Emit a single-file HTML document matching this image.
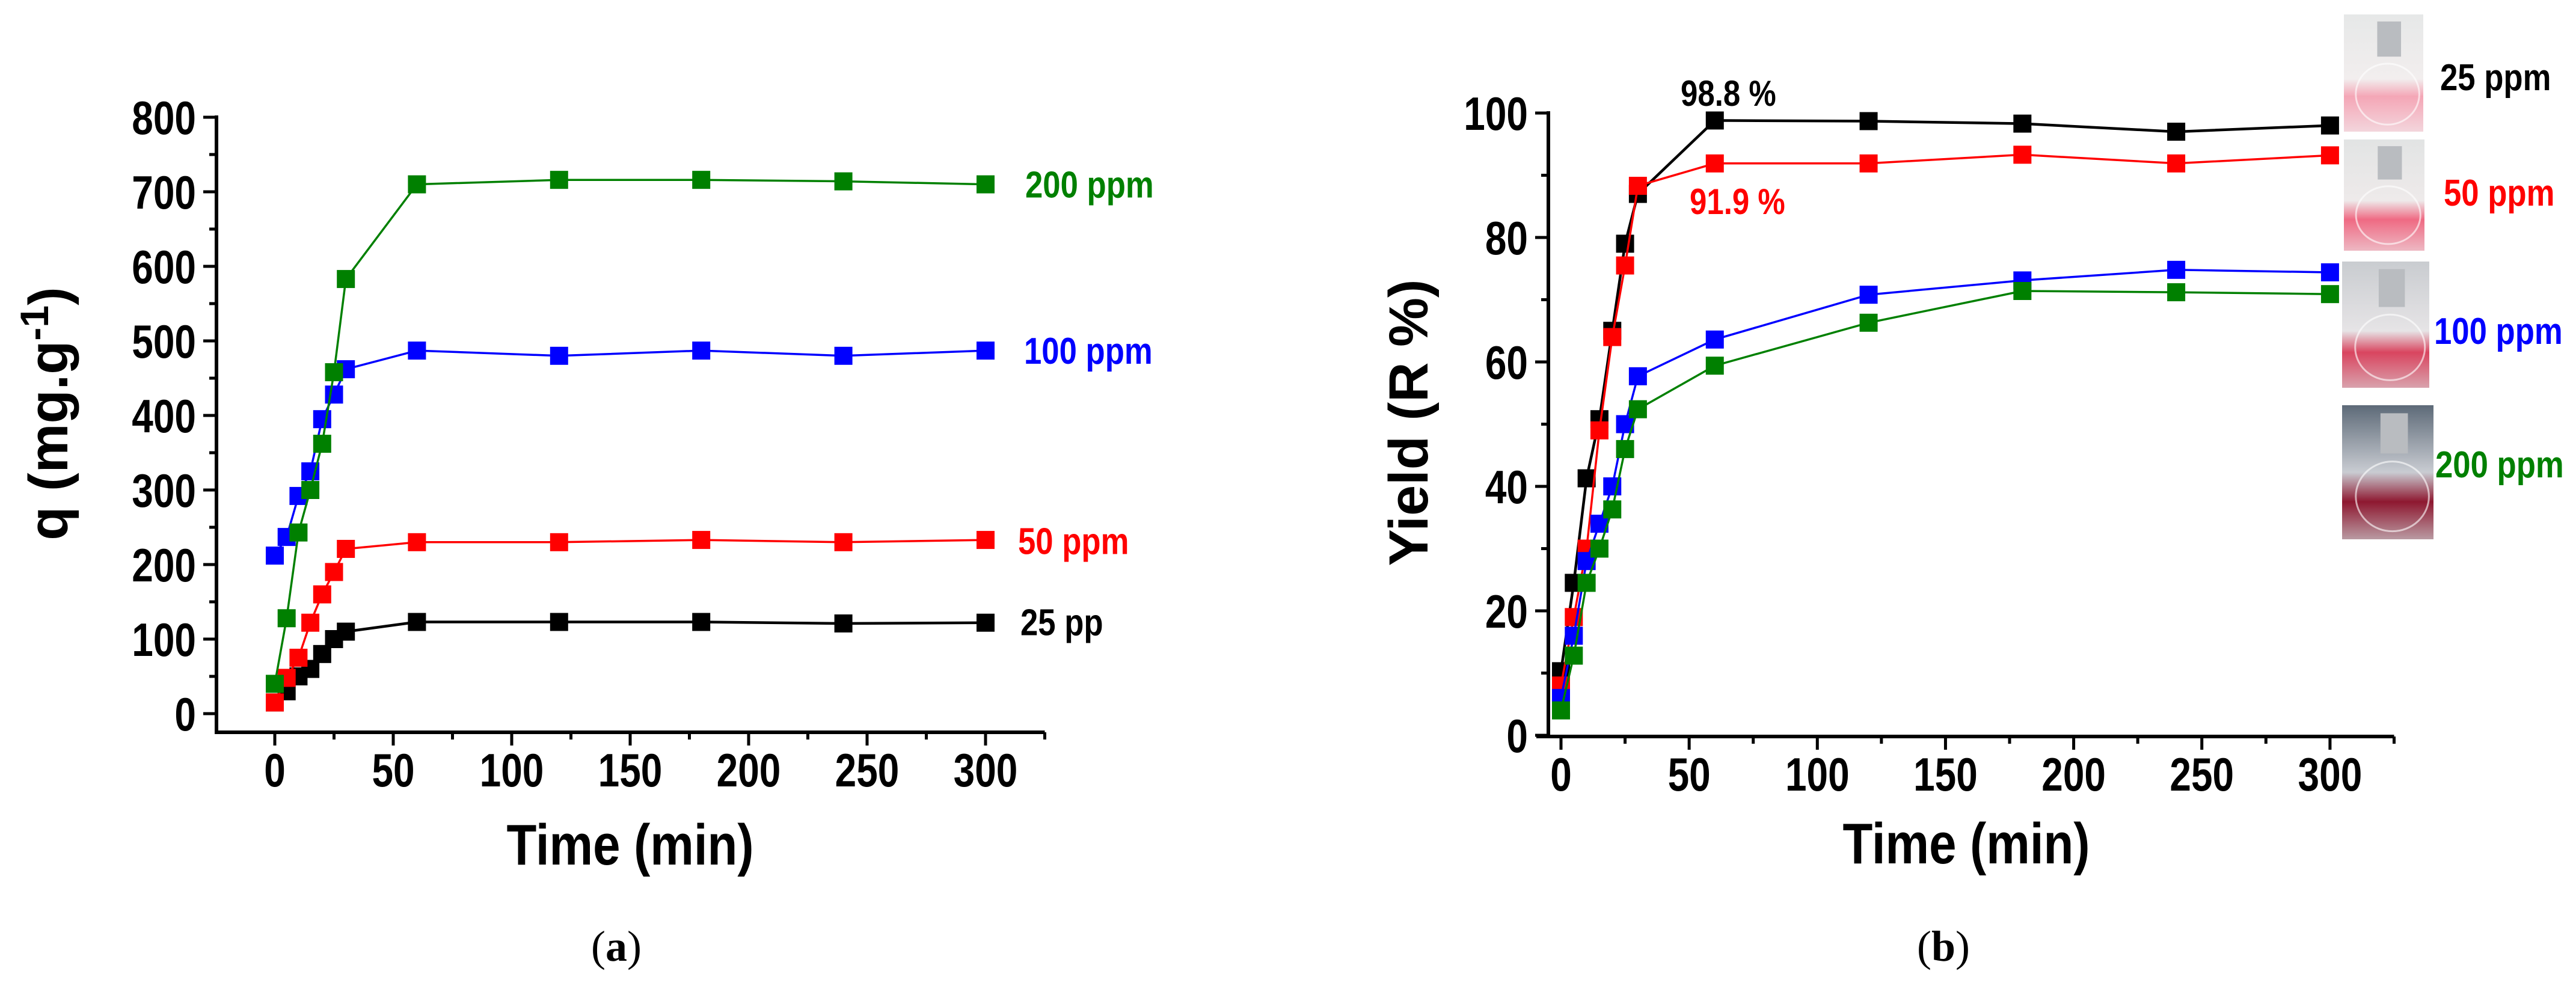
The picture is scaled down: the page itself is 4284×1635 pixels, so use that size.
<!DOCTYPE html>
<html><head><meta charset="utf-8"><style>
html,body{margin:0;padding:0;background:#fff;}
svg{display:block;}
text{font-family:"Liberation Sans",Arial,sans-serif;font-weight:bold;}
</style></head><body>
<svg id="fig" width="4284" height="1635" viewBox="0 0 4284 1635" xmlns="http://www.w3.org/2000/svg">
<defs>
<linearGradient id="flaskA" x1="0" y1="0" x2="0" y2="1"><stop offset="0" stop-color="#e6e8e8"/><stop offset="0.55" stop-color="#f2eeee"/><stop offset="0.7" stop-color="#f4a6b6"/><stop offset="1" stop-color="#f3d5dc"/></linearGradient>
<linearGradient id="flaskB" x1="0" y1="0" x2="0" y2="1"><stop offset="0" stop-color="#e2e4e4"/><stop offset="0.55" stop-color="#eeeaea"/><stop offset="0.72" stop-color="#ef6a83"/><stop offset="1" stop-color="#eeb8c3"/></linearGradient>
<linearGradient id="flaskC" x1="0" y1="0" x2="0" y2="1"><stop offset="0" stop-color="#c9ccd0"/><stop offset="0.55" stop-color="#e6e4e6"/><stop offset="0.72" stop-color="#d9455f"/><stop offset="1" stop-color="#d9a2ad"/></linearGradient>
<linearGradient id="flaskD" x1="0" y1="0" x2="0" y2="1"><stop offset="0" stop-color="#5d6a78"/><stop offset="0.5" stop-color="#c9ccd2"/><stop offset="0.72" stop-color="#8e1830"/><stop offset="1" stop-color="#b99aa2"/></linearGradient>
</defs>
<g id="root"></g>
</svg>
<script>
// ---- shared data ----
const times = [0,5,10,15,20,25,30,60,120,180,240,300];
// panel a: q (mg/g)
const qA25  = [15,30,50,60,80,100,110,123,123,123,121,122];
const qA50  = [15,48,75,122,160,190,221,230,230,233,230,233];
const qA100 = [212,237,292,325,395,428,462,487,480,487,480,487];
const qA200 = [40,128,243,300,362,458,583,710,716,716,714,710];
// panel b: yield (%)
const yB25  = [10.3,24.5,41.3,50.8,65,79,87,98.8,98.7,98.3,97,98];
const yB50  = [8,19,30,49,64,75.5,88.3,91.9,91.9,93.3,91.9,93.2];
const yB100 = [6,16,28,34,40,50,57.7,63.6,70.8,73.1,74.8,74.4];
const yB200 = [4,12.8,24.5,30,36.3,46,52.4,59.4,66.3,71.4,71.2,70.9];
const xTicks = [0,50,100,150,200,250,300];
const yTicksA = [0,100,200,300,400,500,600,700,800];
const yTicksB = [0,20,40,60,80,100];

const NS = "http://www.w3.org/2000/svg";
const root = document.getElementById('root');
function mk(tag, attrs, parent){
  const e = document.createElementNS(NS, tag);
  for (const k in attrs) e.setAttribute(k, attrs[k]);
  (parent||root).appendChild(e);
  return e;
}
function txt(str, x, y, size, anchor, fill, sx, parent){
  const t = mk('text', {x:0, y:0, 'font-size':size, 'text-anchor':anchor||'start', fill:fill||'#000',
    transform:'translate('+x+','+y+') scale('+(sx||0.82)+',1)'}, parent);
  t.textContent = str;
  return t;
}

function panel(cfg){
  const g = mk('g', {});
  
  
  const X = v => cfg.x0 + v * cfg.xs;
  const Y = v => cfg.y0 - v * cfg.ys;
  const ax = mk('g', {stroke:'#000', 'stroke-width':6, fill:'none'}, g);
  
  
  mk('line', {x1:cfg.yAxisX, y1:Y(cfg.yMax)-3, x2:cfg.yAxisX, y2:cfg.xAxisY+3}, ax);
  mk('line', {x1:cfg.xAxisL, y1:cfg.xAxisY, x2:X(cfg.xMax), y2:cfg.xAxisY}, ax);
  for (let v = 0; v <= cfg.xMax; v += 25){
    const major = v % 50 === 0;
    mk('line', {x1:X(v), y1:cfg.xAxisY, x2:X(v), y2:cfg.xAxisY + (major?22:12), 'stroke-width':5}, ax);
  }
  mk('line', {x1:X(cfg.xMax), y1:cfg.xAxisY, x2:X(cfg.xMax), y2:cfg.xAxisY+12, 'stroke-width':5}, ax);
  const step = cfg.yTicks[1]-cfg.yTicks[0];
  for (let v = 0; v <= cfg.yMax + 0.001; v += step/2){
    const major = Math.abs((v/step) - Math.round(v/step)) < 1e-6;
    mk('line', {x1:cfg.yAxisX - (major?22:12), y1:Y(v), x2:cfg.yAxisX, y2:Y(v), 'stroke-width':5}, ax);
  }
  xTicks.forEach(v => {
    const t = txt(String(v), X(v), cfg.xAxisY + 90, 78, 'middle', '#000', 0.82, g);
    
    
  });
  cfg.yTicks.forEach(v => {
    const t = txt(String(v), cfg.yAxisX - 34, Y(v) + 28, 78, 'end', '#000', 0.82, g);
    
    
  });
  cfg.series.forEach(s => {
    const sg = mk('g', {}, g);
    
    
    const pts = times.map((t,i) => X(t).toFixed(1) + ',' + Y(s.vals[i]).toFixed(1)).join(' ');
    mk('polyline', {points:pts, fill:'none', stroke:s.color, 'stroke-width':s.lw||3.5}, sg);
    times.forEach((t,i) => {
      const r = mk('rect', {x:X(t)-15, y:Y(s.vals[i])-15, width:30, height:30, fill:s.color}, sg);
      
      
    });
  });
  return {g, X, Y};
}

const pa = panel({name:'panel-a', x0:457, xs:3.94, y0:1187, ys:1.24, yMax:800, xMax:325,
  yAxisX:360, xAxisY:1218, xAxisL:360, yTicks:yTicksA,
  series:[
    {key:'25ppm', color:'#000000', vals:qA25, lw:4.5},
    {key:'50ppm', color:'#ff0000', vals:qA50},
    {key:'100ppm', color:'#0000ff', vals:qA100},
    {key:'200ppm', color:'#008000', vals:qA200}
  ]});
(function(){
  const g = pa.g;
  let t;
  t = txt('200 ppm', 1705, pa.Y(710)+22, 62, 'start', '#008000', 0.85, g);  
  t = txt('100 ppm', 1703, pa.Y(487)+22, 62, 'start', '#0000ff', 0.85, g);  
  t = txt('50 ppm', 1693, pa.Y(232)+22, 62, 'start', '#ff0000', 0.85, g);  
  t = txt('25 pp', 1697, pa.Y(123)+22, 62, 'start', '#000000', 0.85, g);  
  t = txt('Time (min)', 1048, 1438, 96, 'middle', '#000', 0.85, g);  
  const yt = mk('text', {x:0, y:0, 'font-size':92, 'text-anchor':'middle', transform:'translate(112,688) rotate(-90)'}, g);
  
  
  yt.innerHTML = 'q (mg.g<tspan dy="-32" font-size="66">-1</tspan><tspan dy="32">)</tspan>';
  const cap = mk('text', {x:1025, y:1598, 'font-size':72, 'text-anchor':'middle', style:'font-family:"Liberation Serif",serif;font-weight:normal'}, g);
  
  
  cap.innerHTML = '(<tspan font-weight="bold">a</tspan>)';
})();

const pb = panel({name:'panel-b', x0:2596, xs:4.263, y0:1223, ys:10.35, yMax:100, xMax:325,
  yAxisX:2575, xAxisY:1225, xAxisL:2555, yTicks:yTicksB,
  series:[
    {key:'25ppm', color:'#000000', vals:yB25, lw:4.5},
    {key:'50ppm', color:'#ff0000', vals:yB50},
    {key:'100ppm', color:'#0000ff', vals:yB100},
    {key:'200ppm', color:'#008000', vals:yB200}
  ]});
(function(){
  const g = pb.g;
  let t;
  t = txt('98.8 %', 2795, 176, 60, 'start', '#000', 0.85, g);  
  t = txt('91.9 %', 2810, 356, 60, 'start', '#ff0000', 0.85, g);  
  const photos = [[3898,24,132,195,'flaskA'],[3898,232,134,185,'flaskB'],[3895,435,145,210,'flaskC'],[3895,674,152,223,'flaskD']];
  photos.forEach(p => {
    const pg = mk('g', {}, g);
    
    
    mk('rect', {x:p[0], y:p[1], width:p[2], height:p[3], fill:'url(#'+p[4]+')'}, pg);
    mk('rect', {x:p[0]+p[2]*0.42, y:p[1]+p[3]*0.06, width:p[2]*0.3, height:p[3]*0.3, fill:'#b9bcc0'}, pg);
    mk('ellipse', {cx:p[0]+p[2]*0.55, cy:p[1]+p[3]*0.68, rx:p[2]*0.4, ry:p[3]*0.26, fill:'none', stroke:'#ffffff', 'stroke-width':3, opacity:0.6}, pg);
  });
  t = txt('25 ppm', 4058, 150, 62, 'start', '#000000', 0.85, g);  
  t = txt('50 ppm', 4064, 342, 62, 'start', '#ff0000', 0.85, g);  
  t = txt('100 ppm', 4048, 572, 62, 'start', '#0000ff', 0.85, g);  
  t = txt('200 ppm', 4050, 794, 62, 'start', '#008000', 0.85, g);  
  t = txt('Time (min)', 3270, 1436, 96, 'middle', '#000', 0.85, g);  
  const yt = mk('text', {x:0, y:0, 'font-size':92, 'text-anchor':'middle', transform:'translate(2374,703) rotate(-90)'}, g);
  
  
  yt.textContent = 'Yield (R %)';
  const cap = mk('text', {x:3232, y:1598, 'font-size':72, 'text-anchor':'middle', style:'font-family:"Liberation Serif",serif;font-weight:normal'}, g);
  
  
  cap.innerHTML = '(<tspan font-weight="bold">b</tspan>)';
})();
</script>
</body></html>
